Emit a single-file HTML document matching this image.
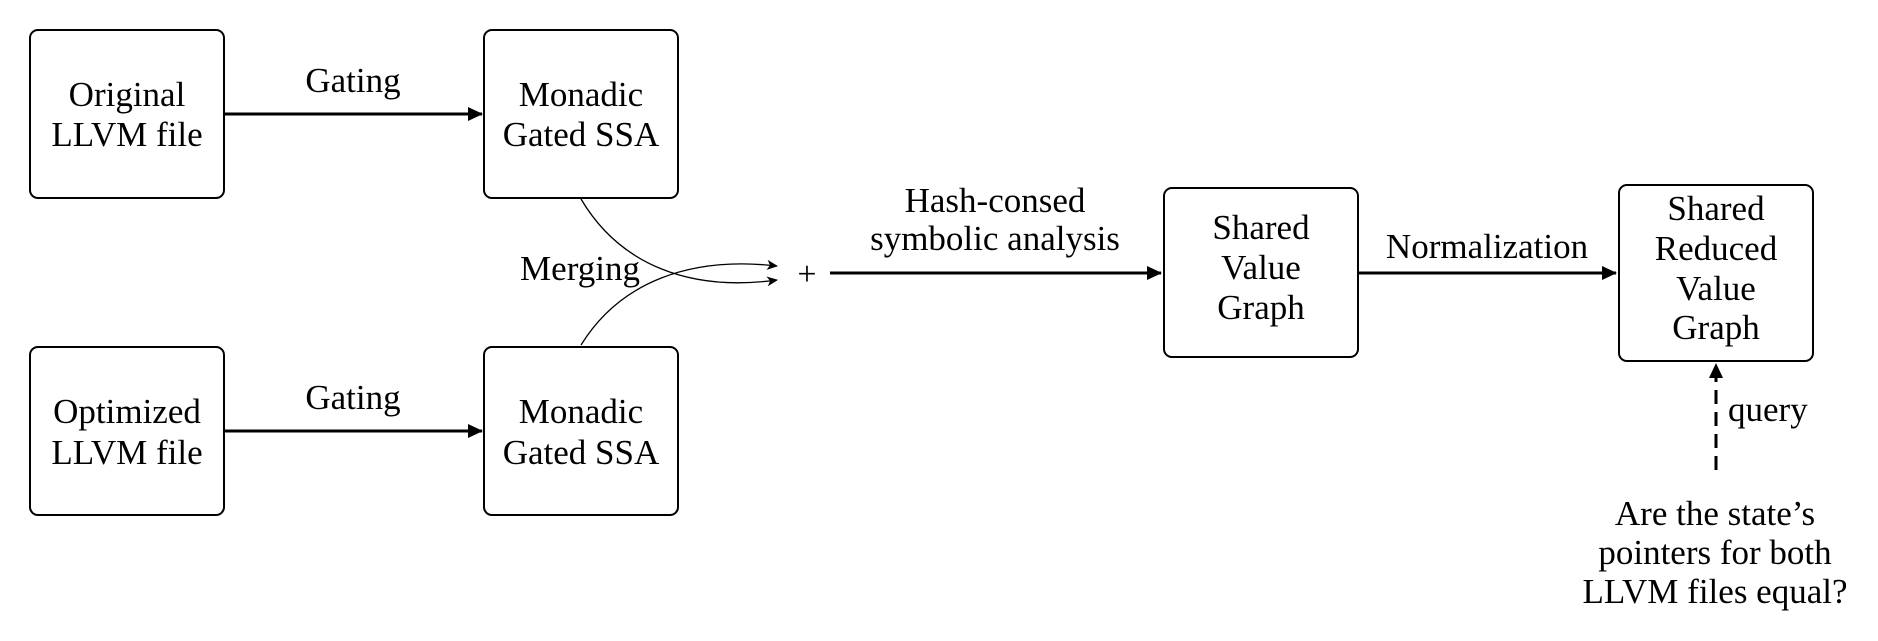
<!DOCTYPE html>
<html><head><meta charset="utf-8"><style>
html,body{margin:0;padding:0;background:#fff;}
svg{display:block;}
text{font-family:"Liberation Serif",serif;font-size:35px;fill:#000;text-anchor:middle;}
</style></head><body>
<svg width="1878" height="641" viewBox="0 0 1878 641" xmlns="http://www.w3.org/2000/svg">
<defs>
<marker id="a" markerWidth="14" markerHeight="10" refX="10" refY="5" orient="auto" markerUnits="userSpaceOnUse"><path d="M0,0 L11,5 L0,10 L3,5 Z" fill="#000"/></marker>
<marker id="b" markerWidth="16" markerHeight="14" refX="14" refY="7" orient="auto" markerUnits="userSpaceOnUse"><path d="M0,0 L15,7 L0,14 Z" fill="#000"/></marker>
</defs>
<g fill="none" stroke="#000" stroke-width="2">
<rect x="30" y="30" width="194" height="168" rx="8"/>
<rect x="484" y="30" width="194" height="168" rx="8"/>
<rect x="30" y="347" width="194" height="168" rx="8"/>
<rect x="484" y="347" width="194" height="168" rx="8"/>
<rect x="1164" y="188" width="194" height="169" rx="8"/>
<rect x="1619" y="185" width="194" height="176" rx="8"/>
</g>
<g stroke="#000" stroke-width="3" fill="none">
<line x1="225" y1="114" x2="482" y2="114" marker-end="url(#b)"/>
<line x1="225" y1="431" x2="482" y2="431" marker-end="url(#b)"/>
<line x1="830" y1="273" x2="1161" y2="273" marker-end="url(#b)"/>
<line x1="1359" y1="273" x2="1616" y2="273" marker-end="url(#b)"/>
<line x1="1716" y1="470" x2="1716" y2="364" stroke-dasharray="14,8" marker-end="url(#b)"/>
</g>
<g stroke="#000" stroke-width="1.3" fill="none">
<path d="M581,199 C620,265 690,292 777,280" marker-end="url(#a)"/>
<path d="M581,345 C620,282 690,256 777,266" marker-end="url(#a)"/>
</g>
<text x="127" y="106">Original</text>
<text x="127" y="146">LLVM file</text>
<text x="581" y="106">Monadic</text>
<text x="581" y="146">Gated SSA</text>
<text x="127" y="423">Optimized</text>
<text x="127" y="464">LLVM file</text>
<text x="581" y="423">Monadic</text>
<text x="581" y="464">Gated SSA</text>
<text x="353" y="92">Gating</text>
<text x="353" y="409">Gating</text>
<text x="580" y="280">Merging</text>
<text x="807" y="285" style="font-size:34px">+</text>
<text x="995" y="212">Hash-consed</text>
<text x="995" y="250">symbolic analysis</text>
<text x="1261" y="239">Shared</text>
<text x="1261" y="279">Value</text>
<text x="1261" y="319">Graph</text>
<text x="1487" y="258">Normalization</text>
<text x="1716" y="220">Shared</text>
<text x="1716" y="260">Reduced</text>
<text x="1716" y="300">Value</text>
<text x="1716" y="339">Graph</text>
<text x="1728" y="421" style="text-anchor:start">query</text>
<text x="1715" y="525">Are the state’s</text>
<text x="1715" y="564">pointers for both</text>
<text x="1715" y="603">LLVM files equal?</text>
</svg>
</body></html>
